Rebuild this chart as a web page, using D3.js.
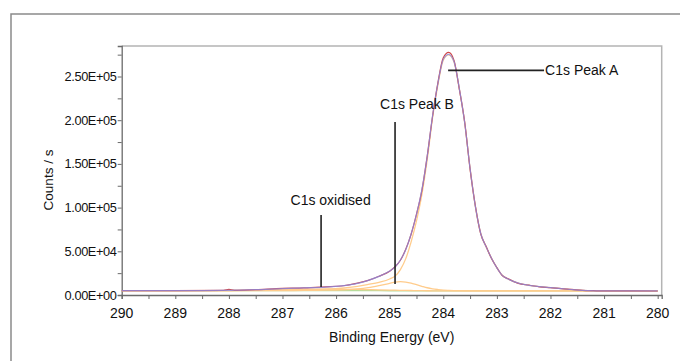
<!DOCTYPE html>
<html><head><meta charset="utf-8">
<script src="https://cdn.jsdelivr.net/npm/d3@7"></script>
<style>
html,body{margin:0;padding:0;background:#fff;}
svg{display:block;font-family:"Liberation Sans",Arial,sans-serif;}
</style></head>
<body><svg id="c" width="680" height="361"></svg>
<script>
// Binding energy grid (eV)
const energy = [290, 289, 288.1, 288, 287.9, 287.5, 287, 286.6, 286.2, 285.9, 285.6, 285.4, 285.2, 285, 284.9, 284.8, 284.7, 284.6, 284.5, 284.4, 284.3, 284.2, 284.1, 284, 283.9, 283.8, 283.7, 283.6, 283.5, 283.4, 283.3, 283.2, 283.1, 283, 282.9, 282.8, 282.6, 282.4, 282.2, 282, 281.8, 281.6, 281.4, 281.2, 281, 280.5, 280];
// measured counts (red)
const measured = [4950, 4900, 5300, 6400, 5400, 6200, 7500, 8100, 9300, 10300, 13500, 16700, 21500, 27300, 32300, 39800, 52300, 69500, 92500, 119500, 158900, 204500, 243000, 271500, 277500, 268500, 235200, 197500, 144000, 101400, 69600, 55500, 41700, 31300, 22300, 18800, 13300, 11200, 9400, 8450, 7200, 6350, 5250, 4900, 4620, 4650, 4600];
// fit envelope (blue)
const envelope = [4900, 5030, 5220, 5330, 5490, 6100, 7400, 8200, 9100, 10400, 13350, 16800, 21300, 27500, 32000, 40000, 52000, 69940, 92040, 120160, 158390, 205130, 242280, 269640, 275310, 267100, 235930, 196820, 144760, 100720, 70080, 55060, 42040, 31030, 22530, 18530, 13530, 11030, 9530, 8330, 7330, 6230, 5330, 4830, 4680, 4630, 4630];
// component C1s Peak A (incl. background)
const peakA = [4900, 5000, 5100, 5150, 5200, 5400, 6000, 6200, 6700, 7700, 9900, 12100, 14550, 18300, 21600, 29120, 41620, 60840, 84820, 114800, 154790, 202770, 240750, 268720, 274700, 266690, 235680, 196670, 144660, 100650, 70040, 55040, 42030, 31030, 22530, 18530, 13530, 11030, 9530, 8330, 7330, 6230, 5330, 4830, 4680, 4630, 4630];
// component C1s Peak B (incl. background)
const peakB = [4900, 4900, 4920, 4930, 4940, 5000, 5100, 5250, 5500, 5900, 6900, 8400, 10700, 13400, 14700, 15260, 14850, 13640, 11820, 10000, 8290, 7070, 6250, 5620, 5300, 5090, 4930, 4820, 4760, 4720, 4680, 4660, 4640, 4630, 4630, 4630, 4630, 4630, 4630, 4630, 4630, 4630, 4630, 4630, 4630, 4630, 4630];
// component C1s oxidised (incl. background)
const oxidised = [4900, 4930, 5000, 5050, 5150, 5500, 6100, 6550, 6700, 6600, 6350, 6100, 5850, 5580, 5470, 5340, 5230, 5140, 5040, 4960, 4890, 4830, 4780, 4740, 4710, 4695, 4680, 4670, 4660, 4650, 4640, 4640, 4630, 4630, 4630, 4630, 4630, 4630, 4630, 4630, 4630, 4630, 4630, 4630, 4630, 4630, 4630];
// background
const background = [4900, 4900, 4900, 4900, 4900, 4900, 4900, 4900, 4900, 4900, 4900, 4900, 4900, 4880, 4870, 4860, 4850, 4840, 4820, 4800, 4790, 4770, 4750, 4720, 4700, 4690, 4680, 4670, 4660, 4650, 4640, 4640, 4630, 4630, 4630, 4630, 4630, 4630, 4630, 4630, 4630, 4630, 4630, 4630, 4630, 4630, 4630];

const xTicks = [290, 289, 288, 287, 286, 285, 284, 283, 282, 281, 280];
const yTicks = [0, 50000, 100000, 150000, 200000, 250000];
const yTickLabels = ["0.00E+00", "5.00E+04", "1.00E+05", "1.50E+05", "2.00E+05", "2.50E+05"];

// annotations: label, line start/end (energy, counts), label anchor
const annLabels = ["C1s Peak A", "C1s Peak B", "C1s oxidised"];
const annLine = [[283.91, 257000, 282.12, 257000], [284.90, 198000, 284.90, 12600], [286.28, 91500, 286.28, 9150]];
const annText = [[282.10, 251500], [285.18, 212500], [286.85, 103500]];

const svg = d3.select("#c");
const L = 121.7, R = 661.7, T = 46, B = 295;
const x = d3.scaleLinear().domain([290, 279.925]).range([L, R]);
const y = d3.scaleLinear().domain([0, 284900]).range([B, T]);

// outer frame
svg.append("path").attr("d", `M11,361 L11,14 L680,14`).attr("fill", "none").attr("stroke", "#8a8a8a").attr("stroke-width", 1.5);

// plot frame (top/right light)
svg.append("path").attr("d", `M${L},${T} L${R},${T} L${R},${B}`).attr("fill", "none").attr("stroke", "#b4b4b4").attr("stroke-width", 1.5);

// x axis
const xa = svg.append("g").attr("transform", `translate(0,${B})`)
  .call(d3.axisBottom(x).tickValues(d3.range(290, 279.9, -0.5)).tickSize(4).tickFormat(""));
xa.select(".domain").attr("stroke", "#6a6a6a").attr("stroke-width", 1.3);
xa.selectAll(".tick line").attr("stroke", "#6a6a6a");
svg.append("g").selectAll("text").data(xTicks).join("text")
  .attr("x", d => x(d)).attr("y", 318).attr("text-anchor", "middle")
  .attr("font-size", 14).attr("fill", "#111").text(d => d);

// y axis
const ya = svg.append("g").attr("transform", `translate(${L},0)`)
  .call(d3.axisLeft(y).tickValues(d3.range(0, 284000, 25000)).tickSize(4).tickFormat(""));
ya.select(".domain").attr("stroke", "#6a6a6a").attr("stroke-width", 1.3);
ya.selectAll(".tick line").attr("stroke", "#6a6a6a");
svg.append("g").selectAll("text").data(yTicks).join("text")
  .attr("x", 116.5).attr("y", d => y(d) + 4.5).attr("text-anchor", "end")
  .attr("font-size", 12.8).attr("letter-spacing", -0.4).attr("fill", "#111")
  .text((d, i) => yTickLabels[i]);

// axis titles
svg.append("text").attr("x", (L + R) / 2).attr("y", 342).attr("text-anchor", "middle")
  .attr("font-size", 14).attr("fill", "#111").text("Binding Energy (eV)");
svg.append("text").attr("transform", "translate(53,180) rotate(-90)").attr("text-anchor", "middle")
  .attr("font-size", 13.5).attr("fill", "#111").text("Counts / s");

// curves
const line = arr => d3.line().x((d, i) => x(energy[i])).y((d, i) => y(arr[i])).curve(d3.curveMonotoneX)(arr);
const g = svg.append("g");
g.append("path").attr("d", line(background)).attr("fill", "none").attr("stroke", "#b6dc9c").attr("stroke-width", 1.3);
[oxidised, peakB, peakA].forEach(a => {
  g.append("path").attr("d", line(a)).attr("fill", "none").attr("stroke", "#ffcc8c").attr("stroke-width", 1.3);
});
g.append("path").attr("d", line(measured)).attr("fill", "none").attr("stroke", "#d04848").attr("stroke-width", 1.2);
g.append("path").attr("d", line(envelope)).attr("fill", "none").attr("stroke", "#8a8ae0").attr("stroke-width", 1.2).attr("stroke-opacity", 0.8);

// annotations
annLine.forEach(a => {
  svg.append("line").attr("x1", x(a[0])).attr("y1", y(a[1])).attr("x2", x(a[2])).attr("y2", y(a[3]))
    .attr("stroke", "#222").attr("stroke-width", 1.6);
});
annText.forEach((t, i) => {
  svg.append("text").attr("x", x(t[0])).attr("y", y(t[1])).attr("font-size", 14).attr("fill", "#111").text(annLabels[i]);
});
</script></body></html>
